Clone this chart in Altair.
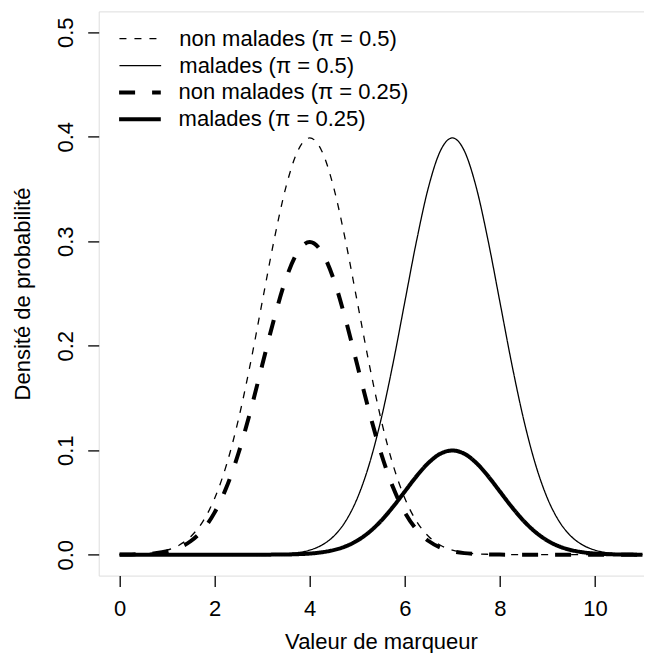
import altair as alt
import pandas as pd

x_vals = [0.0, 0.25, 0.5, 0.75, 1.0, 1.25, 1.5, 1.75, 2.0, 2.25, 2.5, 2.75,
          3.0, 3.25, 3.5, 3.75, 4.0, 4.25, 4.5, 4.75, 5.0, 5.25, 5.5, 5.75,
          6.0, 6.25, 6.5, 6.75, 7.0, 7.25, 7.5, 7.75, 8.0, 8.25, 8.5, 8.75,
          9.0, 9.25, 9.5, 9.75, 10.0, 10.25, 10.5, 10.75, 11.0]

non_malades_05 = [0.0001, 0.0004, 0.0009, 0.0020, 0.0044, 0.0091, 0.0175, 0.0317,
                  0.0540, 0.0863, 0.1295, 0.1826, 0.2420, 0.3011, 0.3521, 0.3867,
                  0.3989, 0.3867, 0.3521, 0.3011, 0.2420, 0.1826, 0.1295, 0.0863,
                  0.0540, 0.0317, 0.0175, 0.0091, 0.0044, 0.0020, 0.0009, 0.0004,
                  0.0001, 0.0, 0.0, 0.0, 0.0, 0.0, 0.0, 0.0, 0.0, 0.0, 0.0, 0.0, 0.0]

malades_05 = [0.0, 0.0, 0.0, 0.0, 0.0, 0.0, 0.0, 0.0, 0.0, 0.0, 0.0, 0.0,
              0.0001, 0.0004, 0.0009, 0.0020, 0.0044, 0.0091, 0.0175, 0.0317,
              0.0540, 0.0863, 0.1295, 0.1826, 0.2420, 0.3011, 0.3521, 0.3867,
              0.3989, 0.3867, 0.3521, 0.3011, 0.2420, 0.1826, 0.1295, 0.0863,
              0.0540, 0.0317, 0.0175, 0.0091, 0.0044, 0.0020, 0.0009, 0.0004, 0.0001]

non_malades_025 = [0.0001, 0.0003, 0.0007, 0.0015, 0.0033, 0.0068, 0.0131, 0.0238,
                   0.0405, 0.0647, 0.0971, 0.1370, 0.1815, 0.2258, 0.2641, 0.2900,
                   0.2992, 0.2900, 0.2641, 0.2258, 0.1815, 0.1370, 0.0971, 0.0647,
                   0.0405, 0.0238, 0.0131, 0.0068, 0.0033, 0.0015, 0.0007, 0.0003,
                   0.0001, 0.0, 0.0, 0.0, 0.0, 0.0, 0.0, 0.0, 0.0, 0.0, 0.0, 0.0, 0.0]

malades_025 = [0.0, 0.0, 0.0, 0.0, 0.0, 0.0, 0.0, 0.0, 0.0, 0.0, 0.0, 0.0,
               0.0, 0.0001, 0.0002, 0.0005, 0.0011, 0.0023, 0.0044, 0.0079,
               0.0135, 0.0216, 0.0324, 0.0457, 0.0605, 0.0753, 0.0880, 0.0967,
               0.0997, 0.0967, 0.0880, 0.0753, 0.0605, 0.0457, 0.0324, 0.0216,
               0.0135, 0.0079, 0.0044, 0.0023, 0.0011, 0.0005, 0.0002, 0.0001, 0.0]

series_labels = ["non malades (π = 0.5)", "malades (π = 0.5)",
                 "non malades (π = 0.25)", "malades (π = 0.25)"]
series_values = [non_malades_05, malades_05, non_malades_025, malades_025]

x_ticks = [0, 2, 4, 6, 8, 10]
y_ticks = [0.0, 0.1, 0.2, 0.3, 0.4, 0.5]

rows = []
for lab, vals in zip(series_labels, series_values):
    for xv, yv in zip(x_vals, vals):
        rows.append({"x": xv, "y": yv, "serie": lab})
df = pd.DataFrame(rows)

FONT = "Liberation Sans"
FS = 22
THIN = 1.3
THICK = 4.0
ROW = 26.87
LEG_Y = 16.3
LEG_X = 19.6
LAB_OFF = 17


def make_legend(y, width):
    shift = (width - THIN) / 2
    return alt.Legend(
        title=None, orient="none", legendX=LEG_X - shift, legendY=y,
        symbolType="stroke", symbolSize=1739, symbolStrokeColor="black",
        symbolStrokeWidth=width,
        labelFontSize=FS, labelFont=FONT, labelColor="black",
        labelOffset=LAB_OFF - shift,
        rowPadding=ROW - 22, clipHeight=22, padding=0, labelLimit=500,
    )


base = alt.Chart(df).encode(
    x=alt.X("x:Q",
            scale=alt.Scale(domain=[-0.44, 11.44], nice=False, zero=False),
            axis=alt.Axis(values=x_ticks, format="d", title="Valeur de marqueur",
                          domain=False, grid=False, tickSize=11, tickWidth=1.3,
                          tickColor="black", labelFontSize=FS, labelFont=FONT,
                          labelColor="black", labelPadding=29, labelBaseline="alphabetic",
                          labelAngle=0, labelFlush=False, labelOverlap=False,
                          titleFontSize=FS, titleFont=FONT, titleFontWeight="normal",
                          titleColor="black", titleX=282.3, titleY=72.9,
                          titleAlign="center", titleBaseline="alphabetic")),
    y=alt.Y("y:Q",
            scale=alt.Scale(domain=[-0.02, 0.52], nice=False, zero=False),
            axis=alt.Axis(values=y_ticks, format=".1f", title="Densité de probabilité",
                          domain=False, grid=False, tickSize=11, tickWidth=1.3,
                          tickColor="black", labelFontSize=FS, labelFont=FONT,
                          labelColor="black", labelPadding=14.8, labelAngle=270,
                          labelAlign="center", labelBaseline="alphabetic",
                          labelFlush=False, labelOverlap=False,
                          titleFontSize=FS, titleFont=FONT, titleFontWeight="normal",
                          titleColor="black", titleAngle=270, titleX=-69.7, titleY=282.1,
                          titleAlign="center", titleBaseline="alphabetic")),
)

thin_labels = series_labels[:2]
thick_labels = series_labels[2:]

thin = base.transform_filter(
    alt.FieldOneOfPredicate(field="serie", oneOf=thin_labels)
).mark_line(color="black", strokeWidth=THIN, interpolate="monotone").encode(
    strokeDash=alt.StrokeDash("serie:N",
                              scale=alt.Scale(domain=thin_labels, range=[[7, 8], [1, 0]]),
                              sort=thin_labels,
                              legend=make_legend(LEG_Y, THIN)),
)

thick = base.transform_filter(
    alt.FieldOneOfPredicate(field="serie", oneOf=thick_labels)
).mark_line(color="black", strokeWidth=THICK, interpolate="monotone").encode(
    strokeDash=alt.StrokeDash("serie:N",
                              scale=alt.Scale(domain=thick_labels, range=[[16, 17], [1, 0]]),
                              sort=thick_labels,
                              legend=make_legend(LEG_Y + 2 * ROW, THICK)),
)

chart = alt.layer(thin, thick).resolve_scale(
    strokeDash="independent"
).resolve_legend(
    strokeDash="independent"
).properties(
    width=564.7, height=564.2,
    autosize=alt.AutoSizeParams(type="none"),
    padding={"left": 90.7, "top": 3.4, "right": -19.4, "bottom": 77.4},
).configure_view(stroke="black", strokeWidth=1.3).configure(background="white")

chart.save("out.html", embed_options={"renderer": "svg", "actions": False})
